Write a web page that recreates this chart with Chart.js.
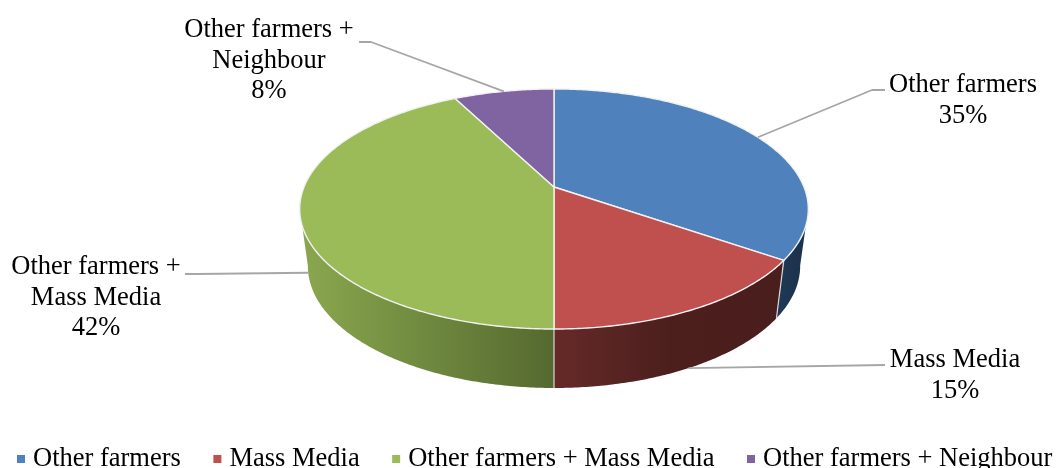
<!DOCTYPE html>
<html>
<head>
<meta charset="utf-8">
<title>Sources of information</title>
<script src="https://cdn.jsdelivr.net/npm/chart.js@4"></script>
<style>
  html, body { margin: 0; padding: 0; background: #fff; }
  #wrap { width: 1056px; height: 468px; overflow: hidden; }
</style>
</head>
<body>
<div id="wrap"><canvas id="pie_chart" width="1056" height="468"></canvas></div>
<script>
var categories = ['Other farmers', 'Mass Media', 'Other farmers + Mass Media', 'Other farmers + Neighbour'];
// read from the slice edges, the labels print them rounded
var shares = [34.6, 15.4, 42.4, 7.6];

var topColors = ['#4f81bd', '#c0504d', '#9bbb59', '#8064a2'];
// wall shading, left to right
var wallColors =
[
  ['#1f3957', '#1b3049'],
  ['#652a28', '#4c1f1d', '#4a1e1c'],
  ['#8aa84f', '#55692f'],
  ['#4c3c61', '#4c3c61']
];

// where each data label sits: lines, centre x, first baseline, elbow of the leader
var labelLines = [['Other farmers'], ['Mass Media'], ['Other farmers +', 'Mass Media'], ['Other farmers +', 'Neighbour']];
var labelBoxes = [
  { x: 963, y: 92, from: [885, 90], elbow: [872, 90] },
  { x: 955, y: 367, from: [885, 365], elbow: [885, 365] },
  { x: 96, y: 274, from: [185, 274], elbow: [196, 274] },
  { x: 269, y: 37, from: [359, 42], elbow: [371, 42] }
];

// perspective of the two faces of the disc
var topFace = { cx: 554, cy: 187, a: 250, b: 116, k: 0.1833 };
var lowFace = { cx: 554, cy: 243.6, a: 242, b: 117.9, k: 0.1833 };
var edgeAngle = Math.asin(0.18); // where the wall turns out of sight

var fontName = '26.5px "Liberation Serif", "Times New Roman", serif';

function project(face, angle)
{
  var u = Math.cos(angle);
  var v = -Math.sin(angle);
  var w = 1 + face.k * v;
  return [face.cx + face.a * u / w, face.cy - face.b * v / w];
}

function arcPoints(face, from, to)
{
  var pts = [];
  var steps = Math.max(2, Math.ceil(Math.abs(to - from) / 0.01));
  for (var i = 0; i <= steps; i++)
    pts.push(project(face, from + (to - from) * i / steps));
  return pts;
}

function tracePath(ctx, pts)
{
  ctx.beginPath();
  pts.forEach(function(p, i)
  {
    if (i == 0) ctx.moveTo(p[0], p[1]);
    else ctx.lineTo(p[0], p[1]);
  });
  ctx.closePath();
}

function wallRange(el)
{
  var from = Math.max(el.startAngle, edgeAngle);
  var to = Math.min(el.endAngle, Math.PI - edgeAngle);
  return to > from ? [from, to] : null;
}

var disc3d =
{
  id: 'disc3d',
  // the library works out the slice angles, they are only drawn in perspective here
  beforeDatasetsDraw: function(chart)
  {
    var ctx = chart.ctx;
    var arcs = chart.getDatasetMeta(0).data;

    arcs.forEach(function(el, i)
    {
      var range = wallRange(el);
      if (!range) return;
      var upper = arcPoints(topFace, range[0], range[1]);
      var lower = arcPoints(lowFace, range[0], range[1]);
      var xs = upper.concat(lower).map(function(p) { return p[0]; });
      var grad = ctx.createLinearGradient(Math.min.apply(null, xs), 0, Math.max.apply(null, xs), 0);
      wallColors[i].forEach(function(color, n)
      {
        grad.addColorStop(n / (wallColors[i].length - 1), color);
      });
      tracePath(ctx, upper.concat(lower.reverse()));
      ctx.fillStyle = grad;
      ctx.fill();
    });

    // light seams where two slices meet on the wall
    arcs.forEach(function(el)
    {
      var a = el.startAngle;
      if (a <= edgeAngle || a >= Math.PI - edgeAngle) return;
      var p = project(topFace, a);
      var q = project(lowFace, a);
      ctx.beginPath();
      ctx.moveTo(p[0], p[1]);
      ctx.lineTo(q[0], q[1]);
      ctx.strokeStyle = '#d9d9d9';
      ctx.lineWidth = 1.2;
      ctx.stroke();
    });

    arcs.forEach(function(el)
    {
      var pts = [[topFace.cx, topFace.cy]].concat(arcPoints(topFace, el.startAngle, el.endAngle));
      tracePath(ctx, pts);
      ctx.fillStyle = el.options.backgroundColor;
      ctx.fill();
      ctx.strokeStyle = el.options.borderColor;
      ctx.lineWidth = el.options.borderWidth;
      ctx.lineJoin = 'round';
      ctx.stroke();
    });

    return false;
  },
  afterDraw: function(chart)
  {
    var ctx = chart.ctx;
    var arcs = chart.getDatasetMeta(0).data;

    // leader lines
    arcs.forEach(function(el, i)
    {
      var mid = (el.startAngle + el.endAngle) / 2;
      var end = project(Math.sin(mid) > 0 ? lowFace : topFace, mid);
      var box = labelBoxes[i];
      ctx.beginPath();
      ctx.moveTo(box.from[0], box.from[1]);
      ctx.lineTo(box.elbow[0], box.elbow[1]);
      ctx.lineTo(end[0], end[1]);
      ctx.strokeStyle = '#a6a6a6';
      ctx.lineWidth = 1.8;
      ctx.stroke();
    });

    ctx.font = fontName;
    ctx.fillStyle = '#000';
    ctx.textBaseline = 'alphabetic';

    // data labels
    ctx.textAlign = 'center';
    categories.forEach(function(name, i)
    {
      var lines = labelLines[i].concat([Math.round(shares[i]) + '%']);
      lines.forEach(function(line, n)
      {
        ctx.fillText(line, labelBoxes[i].x, labelBoxes[i].y + n * 30.6);
      });
    });

    // legend, one row along the bottom
    ctx.textAlign = 'left';
    var x = 17;
    categories.forEach(function(name, i)
    {
      ctx.fillStyle = topColors[i];
      ctx.fillRect(x, 455, 8, 8);
      ctx.fillStyle = '#000';
      ctx.fillText(name, x + 16, 466);
      x += 16 + ctx.measureText(name).width + 32.5;
    });
  }
};

var pieChartCanvas = document.getElementById('pie_chart').getContext('2d');

var pieChart = new Chart(pieChartCanvas,
{
  type: 'pie',
  data:
  {
    labels: categories,
    datasets:
    [{
      data: shares,
      backgroundColor: topColors,
      borderColor: '#f2f2f2',
      borderWidth: 1.4
    }]
  },
  options:
  {
    responsive: false,
    animation: false,
    plugins:
    {
      legend: { display: false },
      tooltip: { enabled: false }
    }
  },
  plugins: [disc3d]
});
</script>
</body>
</html>
